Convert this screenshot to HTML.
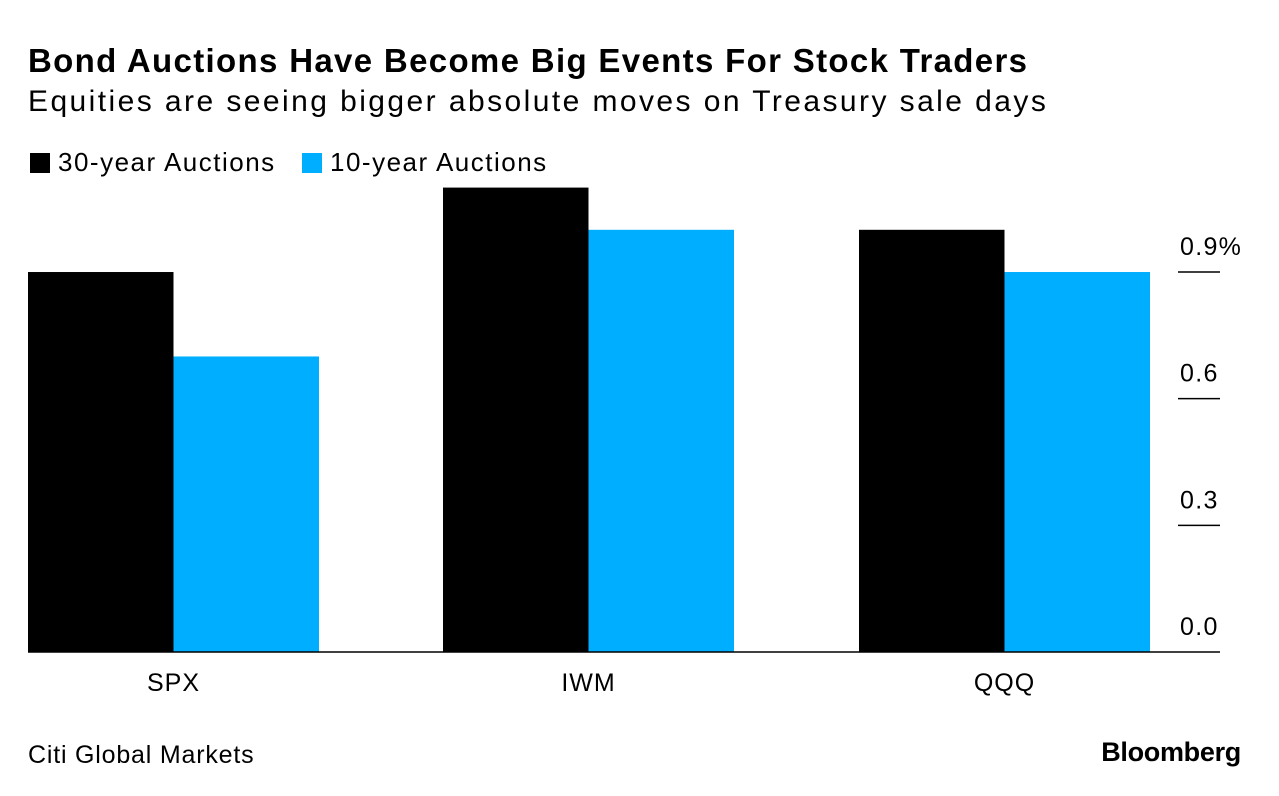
<!DOCTYPE html>
<html><head><meta charset="utf-8"><style>
body{margin:0;width:1279px;height:796px;background:#fff;font-family:"Liberation Sans",sans-serif;color:#000;position:relative;overflow:hidden}
.t{position:absolute;white-space:nowrap}
</style></head><body>
<div class="t" style="left:28px;top:42px;font-size:33px;font-weight:bold;letter-spacing:1.33px">Bond Auctions Have Become Big Events For Stock Traders</div>
<div class="t" style="left:28px;top:85px;font-size:30px;letter-spacing:2.43px">Equities are seeing bigger absolute moves on Treasury sale days</div>
<div class="t" style="left:30px;top:147px;font-size:26px;letter-spacing:1.5px"><span style="display:inline-block;width:20px;height:20px;background:#000;vertical-align:-2px;margin-right:8px"></span>30-year Auctions</div>
<div class="t" style="left:302px;top:147px;font-size:26px;letter-spacing:1.5px"><span style="display:inline-block;width:20px;height:20px;background:#00aeff;vertical-align:-2px;margin-right:8px"></span>10-year Auctions</div>
<svg id="chart" width="1279" height="796" style="position:absolute;left:0;top:0"></svg>
<div class="t" style="left:28px;top:741px;font-size:25px;letter-spacing:0.8px">Citi Global Markets</div>
<div class="t" style="right:38px;top:737px;font-size:27px;font-weight:bold;letter-spacing:-0.3px">Bloomberg</div>
<script>
const categories=["SPX","IWM","QQQ"];
const series30=[0.90,1.10,1.00];
const series10=[0.70,1.00,0.90];
const tickValues=[0,0.3,0.6,0.9];
const tickLabels=["0.0","0.3","0.6","0.9%"];
const svg=document.getElementById('chart');
const NS="http://www.w3.org/2000/svg";
const y0=652,pxPer=422.2;
const y=v=>y0-v*pxPer;
const groupX=[28,443,859],bw=145.5;
function mk(tag,attrs){const e=document.createElementNS(NS,tag);for(const k in attrs)e.setAttribute(k,attrs[k]);svg.appendChild(e);return e;}
categories.forEach((c,i)=>{
  const b1=mk('rect',{x:groupX[i],y:y(series30[i]),width:bw,height:y0-y(series30[i]),fill:'#000'});
  
  
  const b2=mk('rect',{x:groupX[i]+bw,y:y(series10[i]),width:bw,height:y0-y(series10[i]),fill:'#00aeff'});
  
  
  const t=mk('text',{x:groupX[i]+bw,y:691,'font-size':25,'letter-spacing':1,'text-anchor':'middle','font-family':'Liberation Sans, sans-serif'});
  t.textContent=c;
  
  
});
tickValues.forEach((v,i)=>{
  if(v>0){const l=mk('line',{x1:1178,x2:1220,y1:y(v),y2:y(v),stroke:'#000','stroke-width':1.5});
  
  }
  const t=mk('text',{x:1180,y:y(v)-17,'font-size':25,'letter-spacing':1.3,'font-family':'Liberation Sans, sans-serif'});
  t.textContent=tickLabels[i];
  
  
});
const ax=mk('line',{x1:28,x2:1220,y1:y0,y2:y0,stroke:'#000','stroke-width':1.5});


</script>
</body></html>
